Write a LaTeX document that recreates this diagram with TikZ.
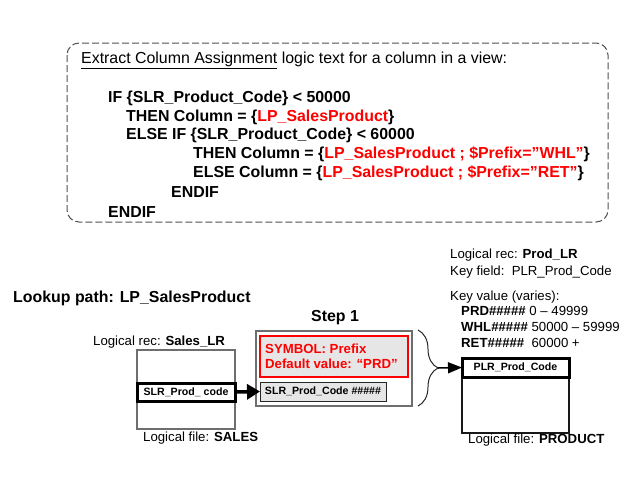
\documentclass[tikz,border=0pt]{standalone}
\usepackage{fontspec}
\setmainfont{Liberation Sans}
\usepackage{xcolor}
\usepackage{tikz}
\usetikzlibrary{arrows.meta}
\usetikzlibrary{decorations.pathreplacing}
\definecolor{boxgray}{HTML}{E6E6E6}
\definecolor{framegray}{HTML}{6E6E6E}
\definecolor{dashgray}{HTML}{505050}
\definecolor{lpred}{HTML}{FF0000}
\newcommand{\bigtxt}{\fontsize{15.9}{19}\selectfont}
\newcommand{\midtxt}{\fontsize{13.2}{16}\selectfont}
\newcommand{\smalltxt}{\fontsize{10.6}{13}\selectfont}
\tikzset{txt/.style={anchor=base west,inner sep=0pt},
         code/.style={txt,font=\bigtxt\bfseries},
         lbl/.style={txt,font=\midtxt},
         recbox/.style={draw=framegray,line width=1.2pt,fill=white,inner sep=0pt,outer sep=0pt},
         fieldbox/.style={draw=black,line width=3pt,fill=white,inner sep=0pt,outer sep=0pt,font=\smalltxt\bfseries},
         flow/.style={line width=3.5pt,-{Triangle[length=13pt,width=15pt]}},
         thinflow/.style={line width=1.5pt,-{Triangle[length=14pt,width=11pt]}}}

\begin{document}
\begin{tikzpicture}[x=1pt,y=-1pt]
\useasboundingbox (0,0) rectangle (621,499);
% logic text
\draw[dashgray,line width=1pt,dash pattern=on 7pt off 3pt,rounded corners=12pt] (67,43) rectangle (608,222);
\node[txt,font=\bigtxt] (title) at (81,63) {\underline{Extract Column Assignment} logic text for a column in a view:};
\node[code] (if1) at (108,102) {IF \{SLR\_Product\_Code\} < 50000};
\node[code] (then1) at (126,121) {THEN Column = \{\textcolor{lpred}{LP\_SalesProduct}\}};
\node[code] (else1) at (126,139) {ELSE IF \{SLR\_Product\_Code\} < 60000};
\node[code] (then2) at (193,158) {THEN Column = \{\textcolor{lpred}{LP\_SalesProduct ; \$Prefix=”WHL”}\}};
\node[code] (else2) at (193,177) {ELSE Column = \{\textcolor{lpred}{LP\_SalesProduct ; \$Prefix=”RET”}\}};
\node[code] (endif2) at (171,197) {ENDIF};
\node[code] (endif1) at (108,217) {ENDIF};
% lookup path
\node[code] (lookup) at (13,302) {Lookup path: LP\_SalesProduct};
\node[code] (step) at (311,321) {Step 1};
% source record
\node[lbl] (salesrec) at (93,345) {Logical rec: \textbf{Sales\_LR}};
\node[recbox,minimum width=98pt,minimum height=79pt] (sales) at (186,389.5) {};
\node[fieldbox,minimum width=98pt,minimum height=18pt] (slrfield) at (186,392) {SLR\_Prod\_ code};
\node[lbl] (salesfile) at (143,441) {Logical file: \textbf{SALES}};
% step 1
\node[recbox,line width=1.5pt,minimum width=156pt,minimum height=75pt] (stepbox) at (334,368.5) {};
\node[draw=lpred,line width=2.5pt,fill=boxgray,inner sep=0pt,minimum width=148pt,minimum height=41pt] (symbox) at (334,356.5) {};
\node[txt,font=\midtxt\bfseries,text=lpred] (symname) at (265,353) {SYMBOL: Prefix};
\node[txt,font=\midtxt\bfseries,text=lpred] (symdef) at (265,368) {Default value: “PRD”};
\node[draw=black!85,line width=1pt,fill=boxgray,inner sep=0pt,outer sep=0pt,minimum width=126pt,minimum height=19pt,font=\smalltxt\bfseries] (symfield) at (323,391.5) {SLR\_Prod\_Code \#\#\#\#\#};
\draw[flow] (slrfield.east) -- (symfield.west);
\draw[decorate,decoration={brace,amplitude=20pt},line width=1pt,black!85] (418,330) -- (418,406);
\coordinate (bracetip) at (438,368);
% target record
\node[lbl] (prodrec) at (450,258) {Logical rec: \textbf{Prod\_LR}};
\node[lbl] (keyfield) at (450,275) {Key field:\ \ PLR\_Prod\_Code};
\node[lbl] (keyvalue) at (450,300) {Key value (varies):};
\node[lbl] (prd) at (461,315) {\textbf{PRD\#\#\#\#\#} 0 – 49999};
\node[lbl] (whl) at (461,331) {\textbf{WHL\#\#\#\#\#} 50000 – 59999};
\node[lbl] (ret) at (461,347) {\textbf{RET\#\#\#\#\#}\ \ 60000 +};
\node[recbox,draw=black!90,minimum width=107pt,minimum height=75pt] (product) at (515.5,395.5) {};
\node[fieldbox,minimum width=107pt,minimum height=19pt] (plrfield) at (515.5,367.5) {PLR\_Prod\_Code};
\node[lbl] (prodfile) at (468,443) {Logical file: \textbf{PRODUCT}};
\draw[thinflow] (bracetip) -- (plrfield.west);
\end{tikzpicture}
\end{document}
